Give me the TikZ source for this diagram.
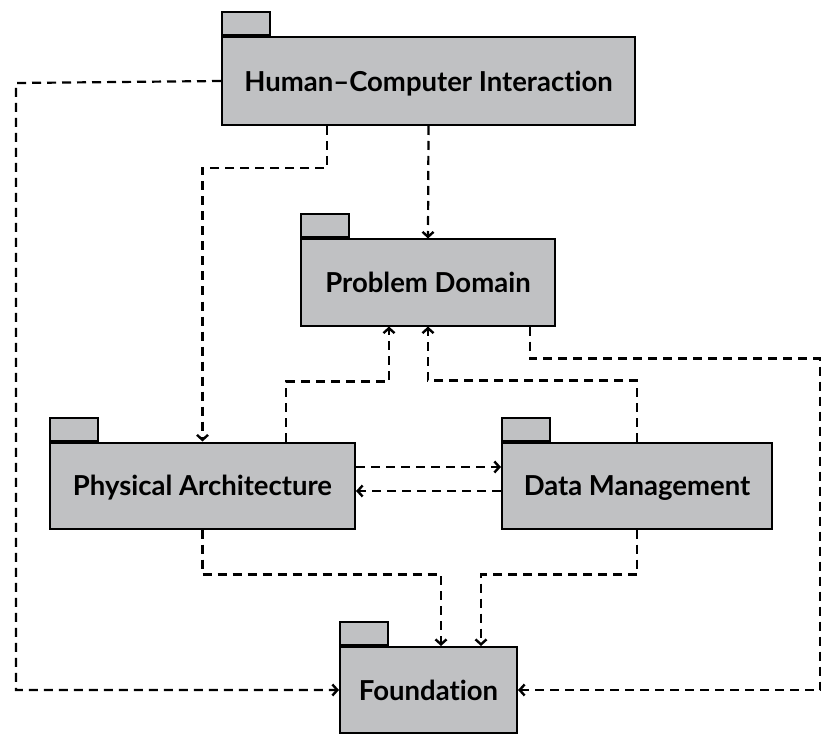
\documentclass[tikz,border=0pt]{standalone}
\usepackage{fontspec}
\setmainfont[Ligatures=NoCommon]{Lato}
\usepackage{tikz}
\usetikzlibrary{arrows.meta,positioning,calc}

\definecolor{pkggray}{RGB}{192,193,195}

\begin{document}
\begin{tikzpicture}[
  x=1pt, y=-1pt,
  pkg/.style={draw, line width=2pt, fill=pkggray, align=center, minimum height=86pt, inner sep=0pt, text depth=0pt, font=\fontsize{27.5}{33}\selectfont\bfseries},
  tab/.style={draw, line width=2pt, fill=pkggray, minimum width=48pt, minimum height=23pt, inner sep=0pt, anchor=south west},
  dep/.style={-{Straight Barb[length=5pt,width=11pt,line width=2.4pt]}, line width=2.2pt, dash pattern=on 9pt off 6pt}
]
  \useasboundingbox (0,0) rectangle (833,746);

  \node[pkg, minimum width=413pt, minimum height=88pt] (hci) at (428.5,81) {Human--Computer Interaction};
  \node[pkg, minimum width=254pt] (pd) at (428,282.5) {Problem Domain};
  \node[pkg, minimum width=305pt] (pa) at (202.5,485.5) {Physical Architecture};
  \node[pkg, minimum width=270pt] (dm) at (637,485.5) {Data Management};
  \node[pkg, minimum width=177pt] (found) at (428.5,690) {Foundation};

  % package tabs
  \foreach \p in {hci,pd,pa,dm,found}
    \node[tab] (\p tab) at (\p.north west) {};

  \draw[dep] (hci.west) -- (16,83) |- (found.west);
  \draw[dep] ([xshift=-101.5pt]hci.south) -- ++(0,42) -| (pa.north);
  \draw[dep] (hci.south) -- (pd.north);
  \draw[dep] ([xshift=102pt]pd.south) -- ++(0,32) -| (820,690) -- (found.east);
  \draw[dep] ([xshift=83.5pt]pa.north) -- ++(0,-60) -| ([xshift=-39pt]pd.south);
  \draw[dep] (dm.north) -- ++(0,-61) -| (pd.south);
  \draw[dep] ([yshift=18.5pt]pa.east) -- ([yshift=18.5pt]dm.west);
  \draw[dep] ([yshift=-5.5pt]dm.west) -- ([yshift=-5.5pt]pa.east);
  \draw[dep] (pa.south) -- ++(0,45) -| ([xshift=12.5pt]found.north);
  \draw[dep] (dm.south) -- ++(0,45) -| ([xshift=52.5pt]found.north);
\end{tikzpicture}
\end{document}
